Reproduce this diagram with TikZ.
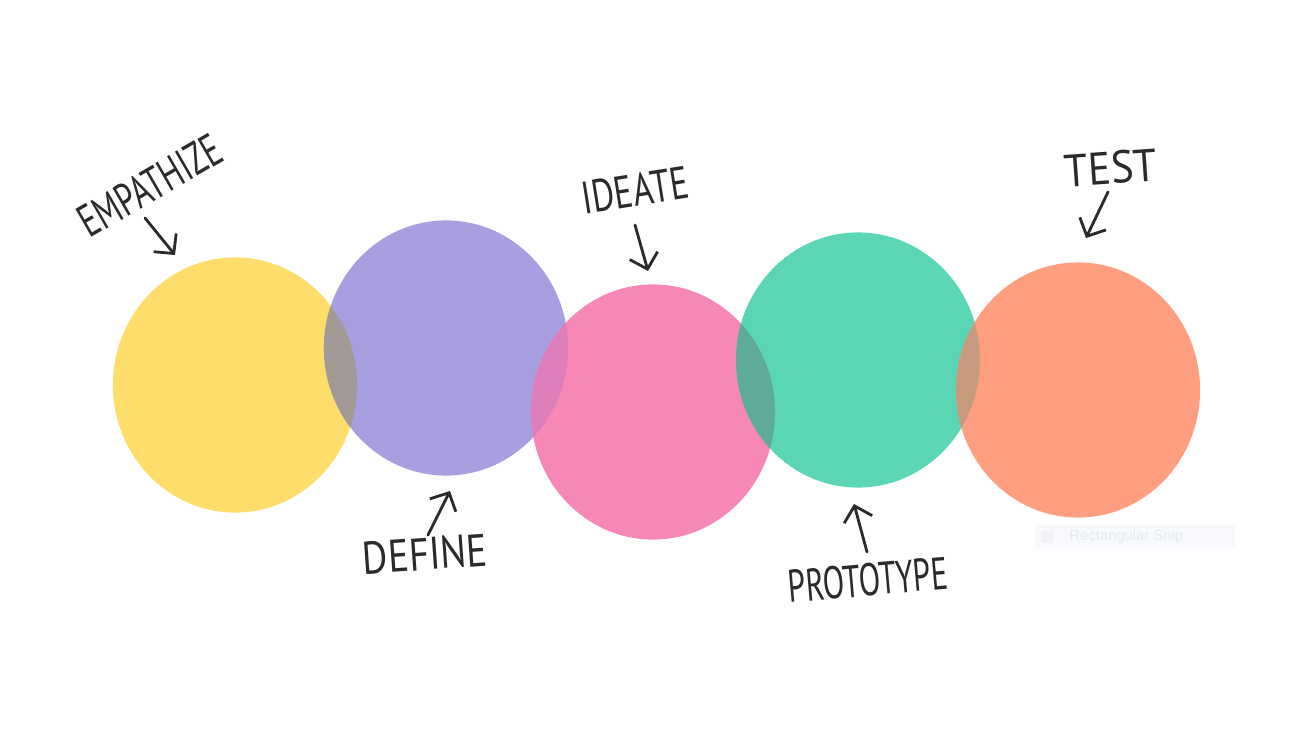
\documentclass[tikz,border=0pt]{standalone}
\usepackage{fontspec}
\setmainfont{PT Sans}
\newfontfamily\snipfont{Liberation Sans}
\usetikzlibrary{shapes.geometric,arrows.meta}

\definecolor{cyellow}{HTML}{FFDD6B}
\definecolor{cpurple}{HTML}{A79FE0}
\definecolor{cpink}{HTML}{F787B7}
\definecolor{cgreen}{HTML}{5BD6B4}
\definecolor{corange}{HTML}{FF9F80}
\definecolor{ovyp}{HTML}{A39A98}
\definecolor{ovpp}{HTML}{DE7EBB}
\definecolor{ovpg}{HTML}{5EAA9B}
\definecolor{ovgo}{HTML}{C99B7E}
\definecolor{ink}{HTML}{2A2A2A}
\definecolor{snipbg}{HTML}{F7F9FC}
\definecolor{sniptext}{HTML}{E6EAF0}

\begin{document}
\begin{tikzpicture}[
    x=0.01cm, y=-0.01cm,
    blob/.style={ellipse, draw=none, inner sep=0pt, minimum width=2.44cm, minimum height=2.55cm},
    stage/.style={text=ink, font=\fontsize{13}{13}\selectfont, inner sep=0pt},
    arr/.style={-{Straight Barb[length=1.4mm, width=2.9mm]}, draw=ink, line width=0.8pt, line cap=round}
]
\useasboundingbox[fill=white] (0,0) rectangle (1316,740);

% Cercles
\node[blob, fill=cyellow] (emp) at (235,385) {};
\node[blob, fill=cpurple] (def) at (446,348) {};
\node[blob, fill=cpink] (ide) at (653,412) {};
\node[blob, fill=cgreen] (pro) at (858,360) {};
\node[blob, fill=corange] (tes) at (1078,390) {};

% Intersections
\begin{scope}
\clip (emp.center) ellipse [x radius=1.22cm, y radius=1.275cm];
\fill[ovyp] (def.center) ellipse [x radius=1.22cm, y radius=1.275cm];
\end{scope}
\begin{scope}
\clip (def.center) ellipse [x radius=1.22cm, y radius=1.275cm];
\fill[ovpp] (ide.center) ellipse [x radius=1.22cm, y radius=1.275cm];
\end{scope}
\begin{scope}
\clip (ide.center) ellipse [x radius=1.22cm, y radius=1.275cm];
\fill[ovpg] (pro.center) ellipse [x radius=1.22cm, y radius=1.275cm];
\end{scope}
\begin{scope}
\clip (pro.center) ellipse [x radius=1.22cm, y radius=1.275cm];
\fill[ovgo] (tes.center) ellipse [x radius=1.22cm, y radius=1.275cm];
\end{scope}

% Etiquettes
\node[stage, rotate=30, xscale=0.7] (emp-lbl) at (150,185) {EMPATHIZE};
\node[stage, rotate=4, xscale=0.85] (def-lbl) at (425,554) {DEFINE};
\node[stage, rotate=9, xscale=0.76] (ide-lbl) at (635,190) {IDEATE};
\node[stage, rotate=5, xscale=0.69] (pro-lbl) at (868,580) {PROTOTYPE};
\node[stage, rotate=4, xscale=0.93] (tes-lbl) at (1111,168) {TEST};

% Fleches
\coordinate (emp-from) at (145,218);
\coordinate (emp-to) at (175,255);
\coordinate (def-from) at (428,535);
\coordinate (def-to) at (450,491);
\coordinate (ide-from) at (635,225);
\coordinate (ide-to) at (648,271);
\coordinate (pro-from) at (867,552);
\coordinate (pro-to) at (854,504);
\coordinate (tes-from) at (1108,192);
\coordinate (tes-to) at (1086,238);
\draw[arr] (emp-from) -- (emp-to);
\draw[arr] (def-from) -- (def-to);
\draw[arr] (ide-from) -- (ide-to);
\draw[arr] (pro-from) -- (pro-to);
\draw[arr] (tes-from) -- (tes-to);

% Capture
\node[fill=snipbg, minimum width=2.0cm, minimum height=0.24cm, inner sep=0pt] (snip) at (1135,537) {};
\node[fill=sniptext!60, minimum size=0.12cm, inner sep=0pt] (snip-icon) at (1047,537) {};
\node[text=sniptext, font=\snipfont\fontsize{4.2}{4.2}\selectfont, anchor=west, inner sep=0pt] (snip-txt) at (1069,537) {Rectangular Snip};
\end{tikzpicture}
\end{document}
